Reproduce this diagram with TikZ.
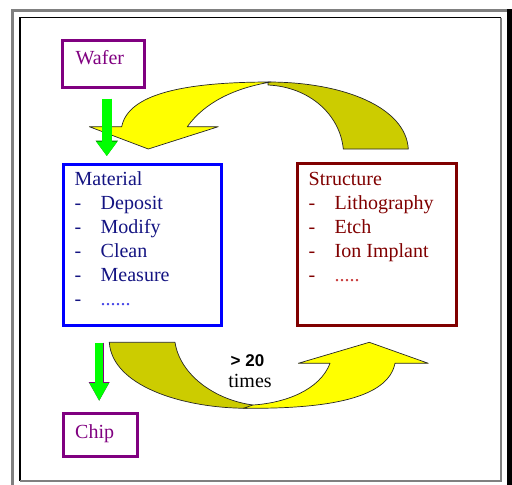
\documentclass[tikz,border=0pt]{standalone}
\usepackage{fontspec}
\setmainfont{Liberation Serif}
\newfontfamily\arialfont{Liberation Sans}
\usetikzlibrary{arrows.meta,calc}
\definecolor{wpurple}{RGB}{128,0,128}
\definecolor{mnavy}{RGB}{20,20,130}
\definecolor{mdots}{RGB}{70,70,230}
\definecolor{sred}{RGB}{128,0,0}
\definecolor{sdots}{RGB}{200,60,60}
\definecolor{bblue}{RGB}{0,0,255}
\definecolor{ylw}{RGB}{255,255,0}
\definecolor{olv}{RGB}{204,204,0}
\definecolor{grn}{RGB}{0,255,0}
\definecolor{dgrn}{RGB}{0,120,0}
\definecolor{frgray}{RGB}{128,128,128}
\begin{document}
\begin{tikzpicture}[x=1pt,y=-1pt,
  box/.style={draw, line width=3pt, inner sep=0pt},
  lbl/.style={anchor=base west, inner sep=0pt, font=\fontsize{20}{24}\selectfont},
  ribbon/.style={draw=black!85, line width=0.7pt, line join=round},
  garrow/.style n args={5}{line width=#1, draw=grn,
     -{Triangle[width=#2,length=#3]},
     preaction={draw=#4, line width=#1+1pt, shorten <=-0.5pt,
       -{Triangle[width=#2+1.2pt,length=#3+1pt]}}}
]
\useasboundingbox (0,0) rectangle (512,485);
% outer frame
\fill[frgray] (11,9) rectangle (14,485);
\fill[frgray] (11,9) rectangle (507,12);
\fill[black] (507,9) rectangle (511.5,485);
\draw[black, line width=1.2pt] (20,481) -- (20,17.5) -- (501,17.5);
\draw[frgray, line width=1.2pt] (501,17.5) -- (501,481) -- (20,481);

% boxes
\node[box, draw=wpurple, minimum width=81.7pt, minimum height=47pt] (wafer) at (103.35,64) {};
\node[box, draw=bblue, minimum width=158.6pt, minimum height=161pt] (material) at (142.5,245.3) {};
\node[box, draw=sred, minimum width=159.3pt, minimum height=162pt] (structure) at (377.2,244.5) {};
\node[box, draw=wpurple, minimum width=74pt, minimum height=43pt] (chip) at (100.5,435) {};

% texts
\node[lbl, text=wpurple] (wafertext) at (75.5,64.3) {Wafer};
\node[lbl, text=wpurple] (chiptext) at (75,438) {Chip};
\node[lbl, text=mnavy] (mattext) at (74.5,185.7) {\begin{tabular}[t]{@{}l@{}}
Material\\
\makebox[26pt][l]{-}Deposit\\
\makebox[26pt][l]{-}Modify\\
\makebox[26pt][l]{-}Clean\\
\makebox[26pt][l]{-}Measure\\
\makebox[26pt][l]{-}\textcolor{mdots}{......}
\end{tabular}};
\node[lbl, text=sred] (structtext) at (308.5,185.7) {\begin{tabular}[t]{@{}l@{}}
Structure\\
\makebox[26pt][l]{-}Lithography\\
\makebox[26pt][l]{-}Etch\\
\makebox[26pt][l]{-}Ion Implant\\
\makebox[26pt][l]{-}\textcolor{sdots}{.....}
\end{tabular}};

% top curved arrow (Structure -> Material)
\path[ribbon, fill=olv] (268,82) .. controls (345,82) and (406,108) .. (408.3,149)
  -- (343.3,149) .. controls (340,115) and (310,87) .. (268,85) -- cycle;
\path[ribbon, fill=ylw] (89.3,126.7) -- (121.7,126.7)
  .. controls (128,95) and (180,82) .. (271,82)
  .. controls (235,88) and (205,102) .. (187.3,126.7)
  -- (218.3,126.7) -- (148.3,149) -- cycle;

% bottom curved arrow (Material -> Structure)
\path[ribbon, fill=olv] (109.3,342.3) -- (175,342.3)
  .. controls (180,375) and (215,400) .. (253,405)
  -- (246.7,408.3) .. controls (180,408) and (112,385) .. (109.3,342.3) -- cycle;
\path[ribbon, fill=ylw] (243.3,408.3) .. controls (330,409) and (388,398) .. (395,363.3)
  -- (428.3,363.3) -- (369.3,342.3) -- (298.3,363.3) -- (330,363.3)
  .. controls (320,390) and (285,403) .. (253,405) -- cycle;

\node[anchor=base, inner sep=0pt, font=\arialfont\bfseries\fontsize{17}{20}\selectfont] (gt) at (247.5,366.7) {> 20};
\node[anchor=base, inner sep=0pt, font=\fontsize{20}{24}\selectfont] (times) at (250,387.3) {times};

% green arrows
\draw[garrow={9.4pt}{20pt}{14.3pt}{dgrn}]
  ([xshift=3.45pt,yshift=-10pt]wafer.south) -- ([xshift=-35.7pt,yshift=7.3pt]material.north);
\draw[garrow={8.3pt}{18.3pt}{18pt}{wpurple}]
  ([xshift=-43.3pt,yshift=-15.7pt]material.south) -- ([xshift=-1.3pt,yshift=11pt]chip.north);
\end{tikzpicture}
\end{document}
